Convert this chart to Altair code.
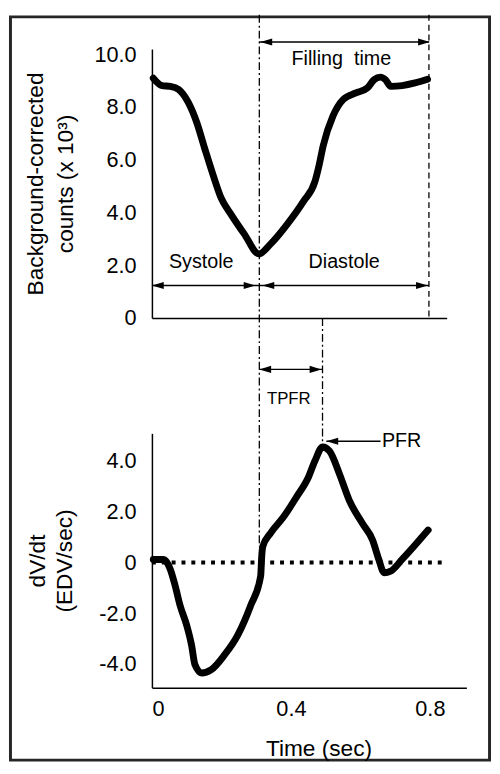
import altair as alt
import pandas as pd

# ---------------- data ----------------
top_time = [0.004, 0.029, 0.053, 0.077, 0.105, 0.129, 0.152, 0.176, 0.199, 0.228,
            0.266, 0.308, 0.341, 0.389, 0.436, 0.469, 0.481, 0.493, 0.521, 0.550,
            0.587, 0.620, 0.639, 0.658, 0.672, 0.687, 0.720, 0.757, 0.793]
top_counts = [9.09, 8.81, 8.78, 8.66, 8.16, 7.41, 6.42, 5.42, 4.55, 3.92,
              3.18, 2.43, 2.80, 3.55, 4.42, 5.17, 5.79, 6.54, 7.66, 8.28,
              8.53, 8.72, 9.03, 9.13, 9.03, 8.78, 8.81, 8.91, 9.05]

bot_time = [0.004, 0.034, 0.053, 0.067, 0.081, 0.100, 0.114, 0.124, 0.143, 0.171,
            0.209, 0.247, 0.284, 0.313, 0.316, 0.319, 0.341, 0.379, 0.416, 0.450,
            0.469, 0.491, 0.511, 0.540, 0.568, 0.606, 0.635, 0.653, 0.668, 0.687,
            0.720, 0.795]
bot_dvdt = [0.12, 0.12, -0.27, -0.92, -1.69, -2.47, -3.25, -4.03, -4.35, -4.22,
            -3.64, -2.86, -1.70, -0.53, 0.24, 0.63, 1.15, 1.80, 2.58, 3.35,
            4.00, 4.55, 4.39, 3.48, 2.45, 1.54, 0.89, 0.12, -0.40, -0.34,
            0.12, 1.28]

top_ticks = [0, 2, 4, 6, 8, 10]
bot_ticks = [-4, -2, 0, 2, 4]
x_ticks = [0, 0.4, 0.8]

# annotation positions (data units)
t_es = 0.309      # end systole
t_pfr = 0.491     # time of peak filling rate
t_end = 0.797     # end of cycle

top_arrow_x1 = [0.309, 0.0, 0.309]
top_arrow_x2 = [0.797, 0.309, 0.797]
top_arrow_y = [10.46, 1.23, 1.23]

top_head_t = [0.312, 0.800, 0.0, 0.298, 0.318, 0.794]
top_head_y = [10.46, 10.46, 1.23, 1.23, 1.23, 1.23]
top_head_dir = ["L", "R", "L", "R", "L", "R"]

top_text = ["Filling\u00a0 time", "Systole", "Diastole"]
top_text_t = [0.545, 0.142, 0.553]
top_text_y = [9.83, 2.13, 2.13]

FONT = "Liberation Sans"
RIGHT = "M0,0L-1,-0.3L-1,0.3Z"
LEFT = "M0,0L1,-0.3L1,0.3Z"

# ---------------- scales ----------------
xs_top = alt.Scale(domain=[0, 0.848], nice=False, zero=False)
ys_top = alt.Scale(domain=[0, 10.2], nice=False, zero=False)
xs_bot = alt.Scale(domain=[0, 0.905], nice=False, zero=False)
ys_bot = alt.Scale(domain=[-4.93, 5.09], nice=False, zero=False)

lab_expr_y = "datum.value == 0 ? '0' : (datum.value < 0 ? '-' : '') + format(abs(datum.value), '.1f')"

# ---------------- top panel ----------------
top_df = pd.DataFrame({"t": top_time, "v": top_counts})
one = pd.DataFrame({"a": [0]})

frame = alt.Chart(one).mark_rect(fillOpacity=0, stroke="#262626", strokeWidth=3).encode(
    x=alt.value(-143.5), x2=alt.value(342.5), y=alt.value(-32.5), y2=alt.value(721.5)
)

top_curve = alt.Chart(top_df).mark_line(
    color="black", strokeWidth=7, strokeCap="round", strokeJoin="round", interpolate="monotone"
).encode(
    x=alt.X("t:Q", scale=xs_top,
            axis=alt.Axis(labels=False, ticks=False, title=None, grid=False,
                          domainColor="black", domainWidth=1.5)),
    y=alt.Y("v:Q", scale=ys_top,
            axis=alt.Axis(values=top_ticks, labelExpr=lab_expr_y, ticks=False, grid=False,
                          domainColor="black", domainWidth=1.5, labelPadding=16,
                          title=["Background-corrected", "counts (x 10\u00b3)"],
                          titleX=-118, titleY=136.5, titleAngle=270, titleAlign="center",
                          titleBaseline="middle", titleLineHeight=30)),
)

rule_es = alt.Chart(pd.DataFrame({"t": [t_es], "y1": [11.49], "y2": [-8.67]})).mark_rule(
    color="black", strokeWidth=1.3, strokeDash=[8, 3, 2, 3]
).encode(x=alt.X("t:Q", scale=xs_top), y=alt.Y("y1:Q", scale=ys_top), y2="y2:Q")

rule_end = alt.Chart(pd.DataFrame({"t": [t_end], "y1": [11.49], "y2": [0.0]})).mark_rule(
    color="black", strokeWidth=1.3, strokeDash=[6, 4]
).encode(x=alt.X("t:Q", scale=xs_top), y=alt.Y("y1:Q", scale=ys_top), y2="y2:Q")

top_arrows = alt.Chart(pd.DataFrame({"x1": top_arrow_x1, "x2": top_arrow_x2, "y": top_arrow_y})).mark_rule(
    color="black", strokeWidth=1.5
).encode(x=alt.X("x1:Q", scale=xs_top), x2="x2:Q", y=alt.Y("y:Q", scale=ys_top))

heads_df = pd.DataFrame({"t": top_head_t, "y": top_head_y, "d": top_head_dir})
top_heads_l = alt.Chart(heads_df).transform_filter("datum.d == 'L'").mark_point(
    shape=LEFT, filled=True, size=576, color="black", opacity=1
).encode(x=alt.X("t:Q", scale=xs_top), y=alt.Y("y:Q", scale=ys_top))
top_heads_r = alt.Chart(heads_df).transform_filter("datum.d == 'R'").mark_point(
    shape=RIGHT, filled=True, size=576, color="black", opacity=1
).encode(x=alt.X("t:Q", scale=xs_top), y=alt.Y("y:Q", scale=ys_top))

top_labels = alt.Chart(pd.DataFrame({"t": top_text_t, "y": top_text_y, "s": top_text})).mark_text(
    font=FONT, fontSize=20, color="black", align="center", baseline="middle"
).encode(x=alt.X("t:Q", scale=xs_top), y=alt.Y("y:Q", scale=ys_top), text="s:N")

top = alt.layer(frame, rule_es, rule_end, top_arrows, top_heads_l, top_heads_r,
                top_labels, top_curve).properties(width=299, height=273)

# ---------------- bottom panel ----------------
bot_df = pd.DataFrame({"t": bot_time, "v": bot_dvdt})

bot_curve = alt.Chart(bot_df).mark_line(
    color="black", strokeWidth=7, strokeCap="round", strokeJoin="round", interpolate="monotone"
).encode(
    x=alt.X("t:Q", scale=xs_bot,
            axis=alt.Axis(values=x_ticks,
                          labelExpr="datum.value == 0 ? '0' : format(datum.value, '.1f')",
                          ticks=False, grid=False, domainColor="black", domainWidth=1.5,
                          labelPadding=11, title="Time (sec)", titleX=169, titleY=62,
                          titleAlign="center", titleBaseline="middle", titleAngle=0)),
    y=alt.Y("v:Q", scale=ys_bot,
            axis=alt.Axis(values=bot_ticks, labelExpr=lab_expr_y, ticks=False, grid=False,
                          domainColor="black", domainWidth=1.5, labelPadding=16,
                          title=["dV/dt", "(EDV/sec)"],
                          titleX=-116, titleY=129, titleAngle=270, titleAlign="center",
                          titleBaseline="middle", titleLineHeight=27)),
)

zero_line = alt.Chart(pd.DataFrame({"x1": [0.0], "x2": [0.834], "y": [0.0]})).mark_rule(
    color="black", strokeWidth=4, strokeDash=[4, 6]
).encode(x=alt.X("x1:Q", scale=xs_bot), x2="x2:Q", y=alt.Y("y:Q", scale=ys_bot))

rule_pfr = alt.Chart(pd.DataFrame({"t": [t_pfr], "y1": [9.63], "y2": [4.70]})).mark_rule(
    color="black", strokeWidth=1.3, strokeDash=[8, 3, 2, 3]
).encode(x=alt.X("t:Q", scale=xs_bot), y=alt.Y("y1:Q", scale=ys_bot), y2="y2:Q")

bot_arrows = alt.Chart(pd.DataFrame({"x1": [0.309, 0.502], "x2": [0.491, 0.658], "y": [7.61, 4.78]})).mark_rule(
    color="black", strokeWidth=1.5
).encode(x=alt.X("x1:Q", scale=xs_bot), x2="x2:Q", y=alt.Y("y:Q", scale=ys_bot))

bheads_df = pd.DataFrame({"t": [0.309, 0.488, 0.502], "y": [7.61, 7.61, 4.78], "d": ["L", "R", "L"]})
bot_heads_l = alt.Chart(bheads_df).transform_filter("datum.d == 'L'").mark_point(
    shape=LEFT, filled=True, size=576, color="black", opacity=1
).encode(x=alt.X("t:Q", scale=xs_bot), y=alt.Y("y:Q", scale=ys_bot))
bot_heads_r = alt.Chart(bheads_df).transform_filter("datum.d == 'R'").mark_point(
    shape=RIGHT, filled=True, size=576, color="black", opacity=1
).encode(x=alt.X("t:Q", scale=xs_bot), y=alt.Y("y:Q", scale=ys_bot))

tpfr_text = alt.Chart(pd.DataFrame({"t": [0.394], "y": [6.45], "s": ["TPFR"]})).mark_text(
    font=FONT, fontSize=17, color="black", align="center", baseline="middle"
).encode(x=alt.X("t:Q", scale=xs_bot), y=alt.Y("y:Q", scale=ys_bot), text="s:N")

pfr_text = alt.Chart(pd.DataFrame({"t": [0.662], "y": [4.78], "s": ["PFR"]})).mark_text(
    font=FONT, fontSize=20, color="black", align="left", baseline="middle"
).encode(x=alt.X("t:Q", scale=xs_bot), y=alt.Y("y:Q", scale=ys_bot), text="s:N")

bottom = alt.layer(zero_line, rule_pfr, bot_arrows, bot_heads_l, bot_heads_r,
                   tpfr_text, pfr_text, bot_curve).properties(width=319, height=258)

chart = alt.vconcat(top, bottom, spacing=117, bounds="flush").properties(
    padding=0, background="white"
).configure_axis(
    labelFont=FONT, labelFontSize=22, labelColor="black",
    titleFont=FONT, titleFontSize=23, titleColor="black", titleFontWeight="normal"
).configure_view(stroke="transparent")

chart.save("out.html", embed_options={"renderer": "svg", "actions": False})
